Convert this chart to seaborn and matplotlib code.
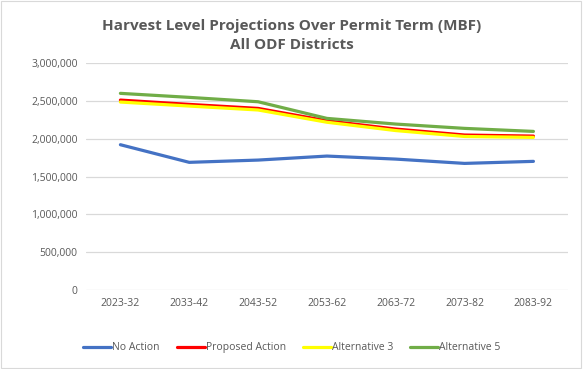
import pandas as pd
import seaborn as sns
import matplotlib.pyplot as plt
from matplotlib.patches import Rectangle
from matplotlib.ticker import FuncFormatter

# Chart data
periods = ['2023-32', '2033-42', '2043-52', '2053-62', '2063-72', '2073-82', '2083-92']
no_action = [1921000, 1688000, 1718000, 1771000, 1731000, 1674000, 1701000]
proposed_action = [2511000, 2454000, 2401000, 2237000, 2128000, 2049000, 2035000]
alternative_3 = [2485000, 2432000, 2380000, 2218000, 2108000, 2030000, 2018000]
alternative_5 = [2600000, 2547000, 2489000, 2269000, 2194000, 2137000, 2097000]

series_names = ['No Action', 'Proposed Action', 'Alternative 3', 'Alternative 5']
series_values = [no_action, proposed_action, alternative_3, alternative_5]
colors = ['#4472C4', '#FF0000', '#FFFF00', '#70AD47']

rows = []
for name, vals in zip(series_names, series_values):
    for p, v in zip(periods, vals):
        rows.append({'period': p, 'series': name, 'value': v})
df = pd.DataFrame(rows)

sns.set_style('white')
plt.rcParams['font.family'] = ['Open Sans', 'DejaVu Sans']

fig = plt.figure(figsize=(5.83, 3.69), dpi=100)
ax = fig.add_axes([0.1475, 0.214, 0.8265, 0.615])

sns.lineplot(data=df, x='period', y='value', hue='series', hue_order=series_names,
             palette=colors, linewidth=2.3, sort=False, ax=ax, legend=False)

ax.set_xlim(-0.5, len(periods) - 0.5)
ax.set_ylim(0, 3000000)
ax.set_yticks(range(0, 3000001, 500000))
ax.yaxis.set_major_formatter(FuncFormatter(lambda v, _: f'{int(v):,}'))
ax.grid(axis='y', color='#D9D9D9', linewidth=0.9)
ax.set_axisbelow(True)
for s in ax.spines.values():
    s.set_visible(False)
ax.tick_params(axis='both', length=0, labelsize=7.5, colors='#595959', pad=6)
ax.set_xlabel('')
ax.set_ylabel('')

fig.suptitle('Harvest Level Projections Over Permit Term (MBF)\nAll ODF Districts',
             y=0.948, fontsize=11, fontweight='bold', color='#595959', linespacing=1.45)

handles = [plt.Line2D([], [], color=c, linewidth=2.3) for c in colors]
leg = ax.legend(handles, series_names, loc='center', bbox_to_anchor=(0.427, -0.255), ncol=4,
                frameon=False, fontsize=7.5, handlelength=2.7, handletextpad=0.1,
                columnspacing=1.6)
for t in leg.get_texts():
    t.set_color('#595959')

fig.patches.append(Rectangle((0.002, 0.003), 0.995, 0.993, transform=fig.transFigure,
                             fill=False, edgecolor='#D9D9D9', linewidth=0.8))

plt.savefig('out.png', dpi=100)
